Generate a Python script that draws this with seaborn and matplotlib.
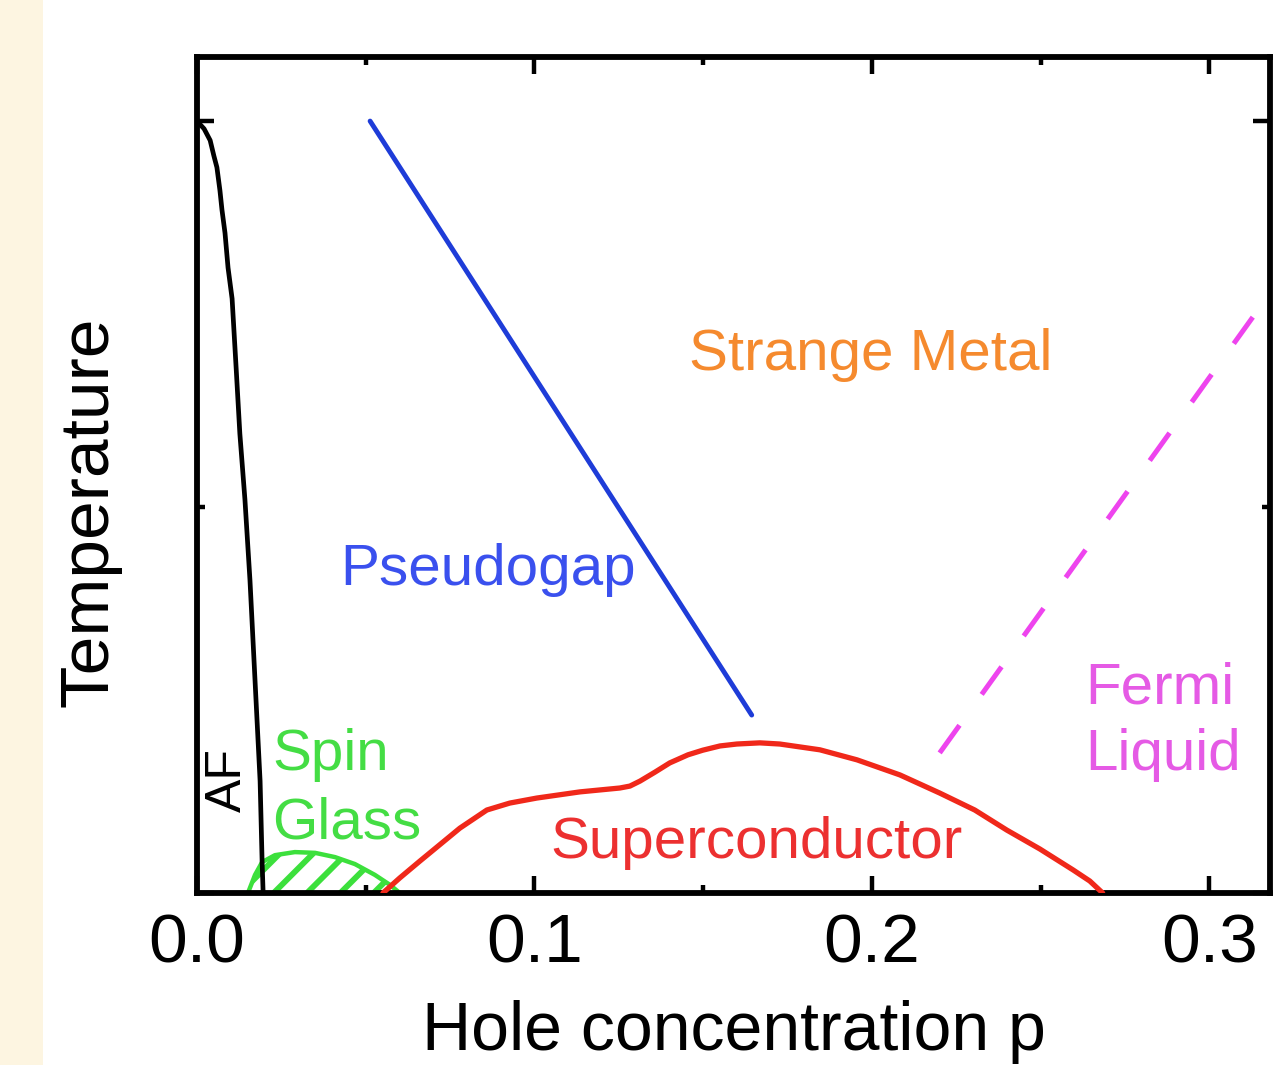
import numpy as np
import pandas as pd
import matplotlib
matplotlib.use("Agg")
import matplotlib.pyplot as plt
import seaborn as sns
from matplotlib.patches import Rectangle
from matplotlib.ticker import FixedLocator

# ---- data (hole concentration p, temperature in arbitrary units) ----
af_p = [0.0, 0.0021, 0.0039, 0.0050, 0.0059, 0.0068, 0.0074, 0.0083, 0.0092, 0.0104, 0.0116,
        0.0127, 0.0142, 0.0157, 0.0172, 0.0187, 0.0193, 0.0196]
af_T = [2.0, 1.98, 1.95, 1.91, 1.88, 1.82, 1.77, 1.71, 1.62, 1.54, 1.36,
        1.19, 1.02, 0.81, 0.55, 0.29, 0.08, 0.0]

pg_p = [0.0513, 0.1644]
pg_T = [2.0, 0.461]

sc_p = [0.0551, 0.0601, 0.0661, 0.0711, 0.0779, 0.0859, 0.0927, 0.1007, 0.1135, 0.1253,
        0.1283, 0.1313, 0.1357, 0.1401, 0.1455, 0.1499, 0.1550, 0.1600, 0.1668, 0.1727,
        0.1846, 0.1956, 0.2083, 0.2201, 0.2305, 0.2400, 0.2498, 0.2596, 0.2646, 0.2684]
sc_T = [0.0, 0.039, 0.083, 0.119, 0.168, 0.215, 0.233, 0.246, 0.262, 0.272,
        0.277, 0.290, 0.313, 0.337, 0.358, 0.370, 0.381, 0.386, 0.389, 0.386,
        0.371, 0.345, 0.306, 0.259, 0.215, 0.163, 0.114, 0.060, 0.031, 0.0]

fl_p = [0.2201, 0.3129]
fl_T = [0.363, 1.492]

sg_p = [0.0151, 0.0172, 0.0193, 0.0231, 0.0290, 0.0350, 0.0409, 0.0468, 0.0527, 0.0572, 0.0601]
sg_T = [0.0, 0.047, 0.080, 0.098, 0.106, 0.104, 0.093, 0.075, 0.047, 0.021, 0.0]

x_ticks = [0.0, 0.1, 0.2, 0.3]
x_tick_labels = ["0.0", "0.1", "0.2", "0.3"]
x_minor = [0.05, 0.15, 0.25]

# ---- colours ----
C_BLACK = "#000000"
C_BLUE = "#1E3CD8"
C_BLUE_TXT = "#3A50EE"
C_RED = "#F0281A"
C_RED_TXT = "#EC3030"
C_ORANGE = "#F58A2E"
C_MAGENTA = "#EE44EE"
C_MAGENTA_TXT = "#E55AE5"
C_GREEN = "#3CE03C"
C_GREEN_TXT = "#44DD44"

sns.set_theme(style="white")
plt.rcParams["font.family"] = ["Liberation Sans", "DejaVu Sans"]
plt.rcParams["hatch.linewidth"] = 4.2
plt.rcParams["hatch.color"] = C_GREEN

W, H = 1273, 1065
fig = plt.figure(figsize=(W / 100, H / 100), dpi=100)
fig.patch.set_facecolor("white")
fig.patches.append(Rectangle((0, 0), 43 / W, 1, transform=fig.transFigure,
                             facecolor="#FDF5E1", edgecolor="none", zorder=-10))

ax = fig.add_axes([197 / W, 1 - 893 / H, (1270 - 197) / W, (893 - 57) / H])
ax.set_facecolor("white")

# spin glass dome (hatched)
ax.fill_between(sg_p, sg_T, 0, facecolor="none", edgecolor=C_GREEN, hatch="/",
                linewidth=0, zorder=1)
sns.lineplot(x=sg_p, y=sg_T, ax=ax, color=C_GREEN, linewidth=3.2, sort=False, zorder=2)

# AF boundary
sns.lineplot(x=af_p, y=af_T, ax=ax, color=C_BLACK, linewidth=3.4, sort=False, zorder=3)
# pseudogap
sns.lineplot(x=pg_p, y=pg_T, ax=ax, color=C_BLUE, linewidth=3.5, sort=False, zorder=3)
# superconducting dome
sns.lineplot(x=sc_p, y=sc_T, ax=ax, color=C_RED, linewidth=3.8, sort=False, zorder=3)
# Fermi liquid crossover (dashed)
sns.lineplot(x=fl_p, y=fl_T, ax=ax, color=C_MAGENTA, linewidth=3.6, sort=False, zorder=3,
             linestyle=(0, (6.8, 7.6)))

# region labels
fs = 42
ax.text(0.1997, 1.355, "Strange Metal", color=C_ORANGE, fontsize=fs, ha="center", va="baseline")
ax.text(0.0424, 0.798, "Pseudogap", color=C_BLUE_TXT, fontsize=fs, ha="left", va="baseline")
ax.text(0.0222, 0.319, "Spin", color=C_GREEN_TXT, fontsize=fs, ha="left", va="baseline")
ax.text(0.0222, 0.142, "Glass", color=C_GREEN_TXT, fontsize=fs, ha="left", va="baseline")
ax.text(0.2631, 0.492, "Fermi", color=C_MAGENTA_TXT, fontsize=fs, ha="left", va="baseline")
ax.text(0.2631, 0.319, "Liquid", color=C_MAGENTA_TXT, fontsize=fs, ha="left", va="baseline")
ax.text(0.1659, 0.091, "Superconductor", color=C_RED_TXT, fontsize=fs, ha="center", va="baseline")
ax.text(0.0092, 0.293, "AF", color=C_BLACK, fontsize=36, ha="center", va="center", rotation=90)

# axes limits & ticks
ax.set_xlim(0, 0.318)
ax.set_ylim(0, 2.166)
ax.xaxis.set_major_locator(FixedLocator(x_ticks))
ax.set_xticklabels(x_tick_labels)
ax.xaxis.set_minor_locator(FixedLocator(x_minor))
ax.yaxis.set_major_locator(FixedLocator([0, 2]))
ax.yaxis.set_minor_locator(FixedLocator([1]))
ax.set_yticklabels([])
ax.tick_params(axis="both", which="both", direction="in", top=True, right=True,
               bottom=True, left=True, colors="black", width=3.2)
ax.tick_params(axis="both", which="major", length=12, pad=14, labelsize=50)
ax.tick_params(axis="both", which="minor", length=6)
ax.tick_params(axis="y", which="both", labelleft=False)

for s in ax.spines.values():
    s.set_visible(True)
    s.set_color("black")
    s.set_linewidth(4.2)

ax.set_xlabel("Hole concentration p", fontsize=49, labelpad=17, color="black")
ax.set_ylabel("Temperature", fontsize=50, color="black")
ax.yaxis.set_label_coords(-0.0708, 0.4557)
ax.grid(False)

fig.savefig("out.png", dpi=100)
